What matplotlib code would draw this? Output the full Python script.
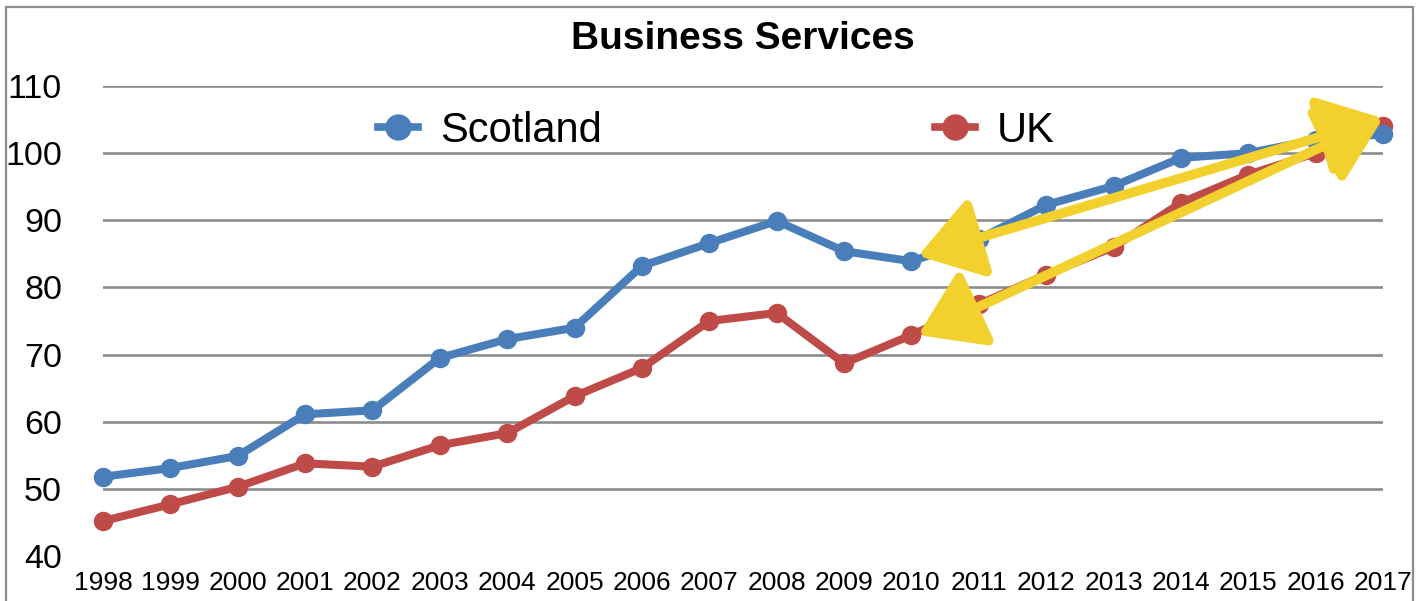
import matplotlib
matplotlib.use("Agg")
import matplotlib.pyplot as plt
from matplotlib import font_manager
from matplotlib.patches import FancyArrowPatch, Rectangle
from matplotlib.lines import Line2D

years = [1998, 1999, 2000, 2001, 2002, 2003, 2004, 2005, 2006, 2007,
         2008, 2009, 2010, 2011, 2012, 2013, 2014, 2015, 2016, 2017]
scotland = [51.8, 53.1, 54.9, 61.1, 61.7, 69.5, 72.3, 74.0, 83.2, 86.6,
            89.9, 85.4, 83.9, 87.2, 92.3, 95.1, 99.3, 100.0, 102.0, 102.8]
uk = [45.2, 47.7, 50.3, 53.8, 53.3, 56.5, 58.3, 63.8, 68.0, 75.0,
      76.2, 68.7, 72.9, 77.5, 81.9, 86.0, 92.6, 96.8, 100.0, 104.0]
yticks = [40, 50, 60, 70, 80, 90, 100, 110]
title = "Business Services"
series_names = ["Scotland", "UK"]
# annotation arrows (start year/value, end year/value)
arrow_starts = [(2010.1, 84.7), (2010.1, 72.9)]
arrow_end = (2017.0, 105.2)

names = {f.name for f in font_manager.fontManager.ttflist}
main_font = "Liberation Sans" if "Liberation Sans" in names else "DejaVu Sans"
plt.rcParams["font.family"] = [main_font, "DejaVu Sans"]

W, H = 1427, 601
fig = plt.figure(figsize=(W / 100, H / 100), dpi=100)
ax = fig.add_axes([103 / W, 1 - 556 / H, 1280 / W, 470 / H])

blue = "#4A7EBB"
red = "#BE4B48"
grid_c = "#8C8C8C"

ax.plot(years, uk, color=red, lw=5.8, marker="o", ms=13, clip_on=False,
        zorder=3, solid_capstyle="round", label=series_names[1])
ax.plot(years, scotland, color=blue, lw=5.8, marker="o", ms=13, clip_on=False,
        zorder=4, solid_capstyle="round", label=series_names[0])

ax.set_xlim(years[0], years[-1])
ax.set_ylim(yticks[0], yticks[-1])
ax.set_xticks(years)
ax.set_xticklabels([str(y) for y in years], fontsize=19)
ax.set_yticks(yticks)
ax.set_yticklabels([str(v) for v in yticks], fontsize=24.5)
ax.tick_params(axis="both", length=0)
ax.tick_params(axis="x", pad=11)
ax.tick_params(axis="y", pad=29.5)
ax.grid(axis="y", color=grid_c, lw=1.9)
ax.set_axisbelow(True)
ax.get_ygridlines()[0].set_visible(False)
for s in ax.spines.values():
    s.set_visible(False)

# yellow annotation arrows
yellow = "#F2D12F"
for st in arrow_starts:
    arr = FancyArrowPatch(st, arrow_end,
                          arrowstyle="<|-|>,head_length=38,head_width=25",
                          color=yellow, lw=7, shrinkA=0, shrinkB=0,
                          mutation_scale=1, zorder=6, clip_on=False,
                          joinstyle="round", capstyle="round")
    ax.add_patch(arr)

# legend
handles = [Line2D([], [], color=blue, lw=5.5, marker="o", ms=18),
           Line2D([], [], color=red, lw=5.5, marker="o", ms=18)]
fig.legend(handles, series_names, loc="center left",
           bbox_to_anchor=(378 / W, 1 - 131 / H), ncol=2, frameon=False,
           fontsize=30, handlelength=0.96, handletextpad=0.53,
           columnspacing=8.0, borderpad=0, borderaxespad=0)

# title
fig.text(743 / W, 1 - 49 / H, title, ha="center", va="baseline",
         fontsize=28, fontweight="bold")

# outer frame
fig.patches.append(Rectangle((6 / W, -0.1), (1413 - 6) / W, 1.1 - 7 / H,
                             transform=fig.transFigure, fill=False,
                             edgecolor="#8C8C8C", lw=1.6))

fig.savefig("out.png", dpi=100)
